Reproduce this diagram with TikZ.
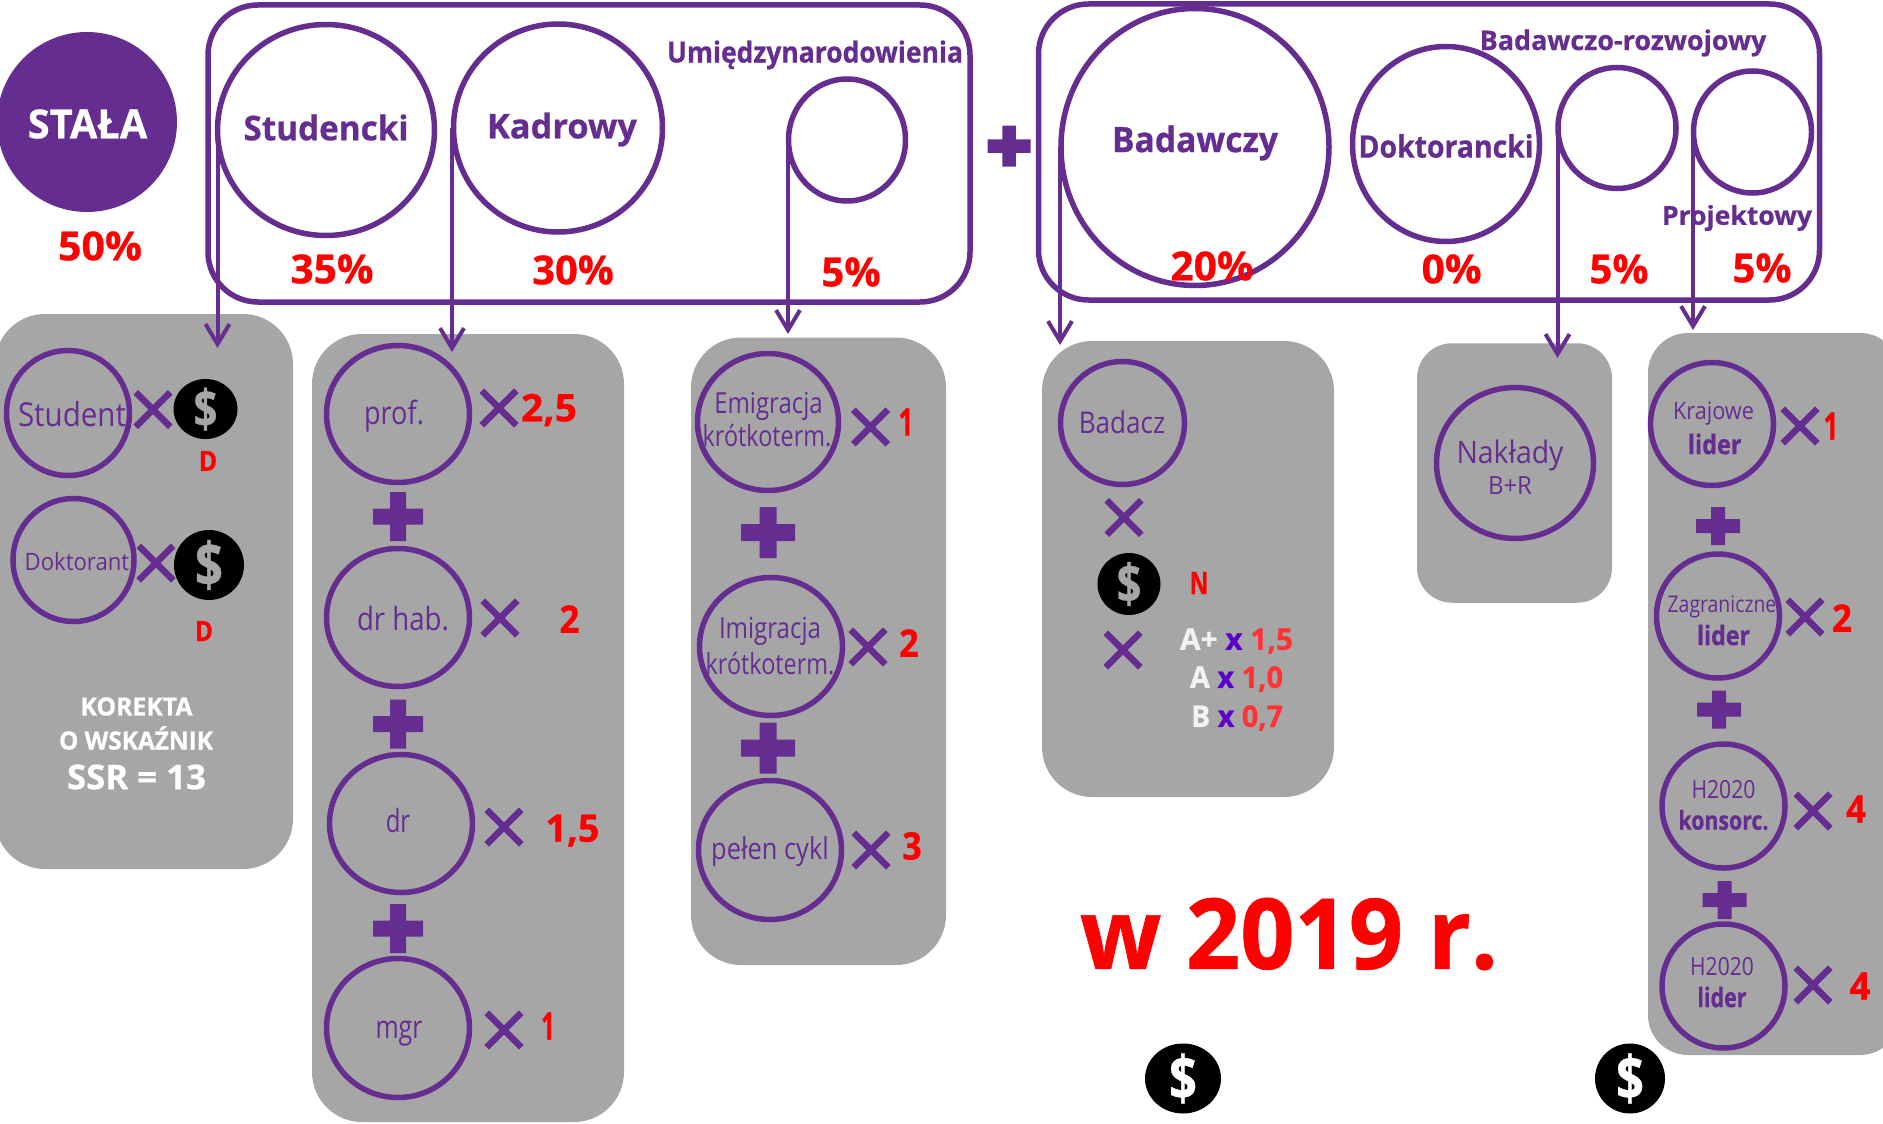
\documentclass[tikz,border=0pt]{standalone}
\usepackage{graphicx}
\usepackage{fontspec}
\setmainfont{Open Sans}[BoldFeatures={FakeBold=0.7}]
\usetikzlibrary{shapes.geometric,shapes.misc,arrows.meta}
\definecolor{pur}{HTML}{662D91}
\definecolor{pgrey}{HTML}{A6A6A6}
\definecolor{vio}{HTML}{5B00C8}
\definecolor{softred}{HTML}{FF3333}
\definecolor{offwhite}{HTML}{F2F2F2}
\tikzset{
  x=1pt,y=-1pt,
  panelbox/.style={rectangle,rounded corners=#1,fill=pgrey,inner sep=0pt,outer sep=0pt},
  groupbox/.style={rectangle,rounded corners=50pt,draw=pur,line width=5.5pt,inner sep=0pt},
  ring/.style={ellipse,draw=pur,line width=5.5pt,inner sep=0pt},
  solidpur/.style={ellipse,fill=pur,inner sep=0pt},
  coinbody/.style={ellipse,fill=black,inner sep=0pt},
  mulmark/.style={cross out,draw=pur,line width=6.5pt,minimum width=28pt,minimum height=28pt,inner sep=0pt},
  plusmark/.style={fill=pur},
  txt/.style={inner sep=0pt,outer sep=0pt},
  head/.style={txt,text=pur,font=\bfseries},
  body/.style={txt,text=pur},
  redb/.style={txt,text=red,font=\bfseries},
  whiteb/.style={txt,text=white,font=\bfseries},
  link/.style={draw=pur,line width=4pt,-{Straight Barb[length=20pt,width=24pt,line width=4pt]}},
}
\newcommand\lab[7]{\node[#2] (#1) at (#3,#4) {\fontsize{#5}{#5}\selectfont\resizebox{#6pt}{\height}{#7}};}
\newcommand\rng[5]{\node[ring,minimum width=#4pt+4pt,minimum height=#5pt+4pt] (#1) at (#2,#3) {};}
\newcommand\mul[3]{\node[mulmark] (#1) at (#2,#3) {};}
% centre x, centre y, full width, full height, arm thickness
\newcommand\plusm[5]{\path[plusmark] ({#1-#3/2},{#2-#5/2}) rectangle ({#1+#3/2},{#2+#5/2}) ({#1-#5/2},{#2-#4/2}) rectangle ({#1+#5/2},{#2+#4/2});}
\newcommand\coin[6]{\node[coinbody,minimum width=#4pt,minimum height=#5pt] (#1) at (#2,#3) {};
  \pgfmathsetmacro\coinfs{0.87*#5}\pgfmathsetmacro\coinw{0.4*#5}
  \node[txt,text=#6,font=\bfseries] (#1d) at (#2,#3) {\fontsize{\coinfs}{\coinfs}\selectfont\resizebox{\coinw pt}{\height}{\$}};}
\begin{document}
\begin{tikzpicture}
\useasboundingbox (0,0) rectangle (1883,1124);
\clip (0,0) rectangle (1883,1124);
% grey panels
\node[panelbox=50pt,minimum width=298pt,minimum height=555pt] (p1) at (144,591.5) {};
\node[panelbox=50pt,minimum width=312pt,minimum height=788pt] (p2) at (468,728) {};
\node[panelbox=50pt,minimum width=255pt,minimum height=627.5pt] (p3) at (818.5,651.25) {};
\node[panelbox=50pt,minimum width=292pt,minimum height=456pt] (p4) at (1188,569) {};
\node[panelbox=35pt,minimum width=195pt,minimum height=259.5pt] (p5) at (1514.5,473) {};
\node[panelbox=40pt,minimum width=252pt,minimum height=722pt] (p6) at (1774,694) {};
% group boxes
\node[groupbox,minimum width=762pt,minimum height=297pt] (g1) at (589,153.5) {};
\node[groupbox,minimum width=781pt,minimum height=296pt] (g2) at (1429,152) {};
% top left
\node[solidpur,minimum width=180pt,minimum height=180pt] (stala) at (87,122) {};
\lab{stalat}{whiteb}{87.5}{124}{40}{119.5}{STAŁA}
\lab{pc50}{redb}{100}{246}{40}{84}{50\%}
% top rings
\rng{stud}{326}{130}{213}{207}
\rng{kadr}{558}{128}{205}{204}
\rng{umi}{847}{140}{113}{118}
\rng{bad}{1195}{147}{264}{273}
\rng{dokt}{1446}{144}{183}{191}
\rng{roz}{1617}{128}{114}{117}
\rng{proj}{1752.5}{132}{114}{118}
\lab{studt}{head}{326}{127.5}{34}{165}{Studencki}
\lab{kadrt}{head}{562}{129.5}{34}{150}{Kadrowy}
\lab{umit}{head}{815}{55}{29}{296}{Umiędzynarodowienia}
\lab{badt}{head}{1195}{143}{35}{166}{Badawczy}
\lab{doktt}{head}{1446}{146}{31}{175}{Doktorancki}
\lab{rozt}{head}{1623}{43}{27}{286.6}{Badawczo-rozwojowy}
\lab{projt}{head}{1737}{218}{26}{150}{Projektowy}
\lab{pc35}{redb}{332}{269}{40}{83}{35\%}
\lab{pc30}{redb}{573}{270}{40}{81.5}{30\%}
\lab{pc5a}{redb}{851}{272}{40}{59.4}{5\%}
\lab{pc20}{redb}{1212}{266}{40}{83}{20\%}
\lab{pc0}{redb}{1451.6}{269}{40}{60}{0\%}
\lab{pc5b}{redb}{1619}{269}{40}{59}{5\%}
\lab{pc5c}{redb}{1762}{268}{40}{59}{5\%}
\plusm{1009}{146}{43}{41}{13.5}
% panel 1
\rng{student}{68}{413}{119}{121}
\lab{studentt}{body}{72}{414}{33}{108}{Student}
\mul{m1}{153}{409.5}
\coin{c1}{205.5}{409}{64}{60}{pgrey}
\lab{d1}{redb}{208}{461}{28}{18.4}{D}
\rng{dokr}{73.5}{560}{117}{119}
\lab{dokrt}{body}{77}{561.5}{24}{104.5}{Doktorant}
\mul{m2}{156}{563}
\coin{c2}{209}{565}{70}{70}{pgrey}
\lab{d2}{redb}{204}{631}{28}{18}{D}
\lab{kor1}{whiteb}{136.5}{706.5}{25}{112}{KOREKTA}
\lab{kor2}{whiteb}{136}{738}{25}{154}{O WSKAŹNIK}
\lab{kor3}{whiteb}{136.5}{777}{34}{139}{SSR = 13}
% panel 2
\rng{prof}{398}{414}{139}{133}
\lab{proft}{body}{394}{416}{32}{60}{prof.}
\mul{m3}{499}{408}
\lab{f25}{redb}{549}{410}{38}{56}{2,5}
\plusm{398}{516.5}{50}{49}{16}
\rng{hab}{398}{617.5}{139}{134}
\lab{habt}{body}{403}{619}{32}{92}{dr hab.}
\mul{m4}{500}{618}
\lab{f2a}{redb}{569.5}{619}{38}{20}{2}
\plusm{398}{724}{50}{49}{16}
\rng{dr}{401}{823.5}{139}{134}
\lab{drt}{body}{398}{820}{32}{24.5}{dr}
\mul{m5}{504}{827}
\lab{f15}{redb}{572.5}{830.6}{38}{54}{1,5}
\plusm{398}{928.5}{50}{49}{16}
\rng{mgr}{398}{1028}{139}{135}
\lab{mgrt}{body}{399}{1034}{32}{47}{mgr}
\mul{m6}{504}{1030}
\lab{f1a}{redb}{548}{1026}{38}{13.5}{1}
% panel 3
\rng{emi}{768}{422}{137}{133}
\lab{emit1}{body}{768.5}{406.6}{29}{108.5}{Emigracja}
\lab{emit2}{body}{767}{436}{29}{128.6}{krótkoterm.}
\mul{m7}{870.5}{427}
\lab{f1b}{redb}{906}{422}{38}{15}{1}
\plusm{768}{532.5}{54}{51}{17}
\rng{imi}{771}{646.5}{139}{134}
\lab{imit1}{body}{770}{631}{29}{102}{Imigracja}
\lab{imit2}{body}{770}{664}{29}{128.6}{krótkoterm.}
\mul{m8}{868}{647}
\lab{f2b}{redb}{909}{643}{38}{19.6}{2}
\plusm{768}{748}{54}{51}{17}
\rng{pel}{770}{850}{139}{135}
\lab{pelt}{body}{770}{852}{30}{117.6}{pełen cykl}
\mul{m9}{871}{850}
\lab{f3}{redb}{912}{846}{38}{19.6}{3}
% panel 4
\rng{badacz}{1122.5}{423}{120}{119}
\lab{badaczt}{body}{1122}{422.5}{30}{86.5}{Badacz}
\mul{m10}{1124}{517.5}
\coin{c3}{1129}{584}{63}{62}{pgrey}
\lab{n1}{redb}{1199}{583}{31}{18.6}{N}
\mul{m11}{1123}{650}
\lab{lA}{whiteb}{1236.5}{641}{30}{113}{\textcolor{offwhite}{A+} \textcolor{vio}{x} \textcolor{softred}{1,5}}
\lab{lB}{whiteb}{1236.5}{679}{30}{93}{\textcolor{offwhite}{A} \textcolor{vio}{x} \textcolor{softred}{1,0}}
\lab{lC}{whiteb}{1237}{718}{30}{92}{\textcolor{offwhite}{B} \textcolor{vio}{x} \textcolor{softred}{0,7}}
% panel 5
\rng{nak}{1515}{463}{153}{147}
\lab{nakt}{body}{1510}{455}{31}{107}{Nakłady}
\lab{brt}{body}{1510}{486}{25}{44}{B+R}
% panel 6
\rng{kraj}{1712}{424}{119}{119}
\lab{krajt1}{body}{1713.5}{413.4}{24}{81}{Krajowe}
\lab{krajt2}{head}{1714.7}{444}{27}{53.6}{lider}
\mul{m12}{1800}{426}
\lab{f1c}{redb}{1831}{426}{38}{15}{1}
\plusm{1718}{526}{44}{38}{14}
\rng{zag}{1718}{616}{119}{120}
\lab{zagt1}{body}{1722}{607}{23}{108.7}{Zagraniczne}
\lab{zagt2}{head}{1723.5}{635}{27}{53}{lider}
\mul{m13}{1805}{617}
\lab{f2c}{redb}{1842}{618}{38}{20}{2}
\plusm{1719}{709.5}{44}{38}{14}
\rng{kons}{1723.5}{806}{119}{120}
\lab{konst1}{body}{1723.5}{789.5}{25}{64}{H2020}
\lab{konst2}{head}{1723.5}{820}{26}{90}{konsorc.}
\mul{m14}{1813}{811}
\lab{f4a}{redb}{1856}{809}{38}{20}{4}
\plusm{1724.5}{900}{44}{38}{14}
\rng{lid}{1723.5}{986}{119}{120}
\lab{lidt1}{body}{1722}{967}{25}{63.6}{H2020}
\lab{lidt2}{head}{1722}{997}{27}{49}{lider}
\mul{m15}{1813}{985}
\lab{f4b}{redb}{1860}{986}{38}{21}{4}
% bottom
\lab{year}{redb}{1289}{934}{98}{418}{w 2019 r.}
\coin{c4}{1183}{1078.5}{76}{70}{white}
\coin{c5}{1630}{1078.5}{70}{70}{white}
% arrows
\coordinate (a1) at (217.5,348);
\coordinate (a2) at (452,352);
\coordinate (a3) at (788,334);
\coordinate (a4) at (1060,345);
\coordinate (a5) at (1557.5,358);
\coordinate (a6) at (1693,330);
\draw[link] (a1 |- stud.west) -- (a1);
\draw[link] (a2 |- kadr.west) -- (a2);
\draw[link] (a3 |- umi.west) -- (a3);
\draw[link] (a4 |- bad.west) -- (a4);
\draw[link] (a5 |- roz.west) -- (a5);
\draw[link] (a6 |- proj.west) -- (a6);
\end{tikzpicture}
\end{document}
